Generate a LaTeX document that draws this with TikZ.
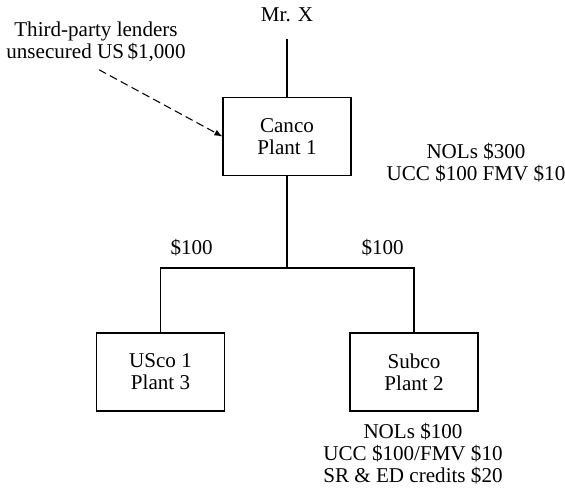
\documentclass[tikz,border=0pt]{standalone}
\usepackage{fontspec}
\setmainfont{Liberation Serif}
\usetikzlibrary{arrows,positioning}

\begin{document}
\begin{tikzpicture}[x=0.02cm, y=-0.02cm,
    every node/.style={font=\fontsize{12}{12.5}\selectfont},
    company/.style={rectangle, draw, line width=0.6pt, minimum width=2.56cm, minimum height=1.56cm, align=center},
    note/.style={align=center},
    link/.style={line width=0.6pt}
]
\useasboundingbox (0,0) rectangle (565,496);

% Owner
\node (mrx) at (287,15) {Mr. X};

% Companies
\node[company] (canco) at (287,136.5) {Canco\\Plant 1};
\node[company] (usco) at (160.5,372) {USco 1\\Plant 3};
\node[company] (subco) at (414,372) {Subco\\Plant 2};

% Ownership lines
\coordinate (split) at (287,268);
\draw[link] ([yshift=-6pt]mrx.south) -- (canco);
\draw[link] (canco) -- (split);
\draw[link] (usco.north) |- (split) -| (subco.north);

% Loans
\node (loanl) at (191.7,248) {\$100};
\node (loanr) at (382.7,248) {\$100};

% Lenders
\node[note] (lenders) at (96,42) {Third-party lenders\\unsecured US\,\$1,000};
\draw[link, dashed, dash pattern=on 4.5pt off 2.5pt, -latex, shorten <=2pt] (lenders.south) -- (canco.west);

% Tax attributes
\node[note] (canattr) at (476,163) {NOLs \$300\\UCC \$100 FMV \$10};
\node[note] (subattr) at (413,454) {NOLs \$100\\UCC \$100/FMV \$10\\SR \& ED credits \$20};

\end{tikzpicture}
\end{document}
